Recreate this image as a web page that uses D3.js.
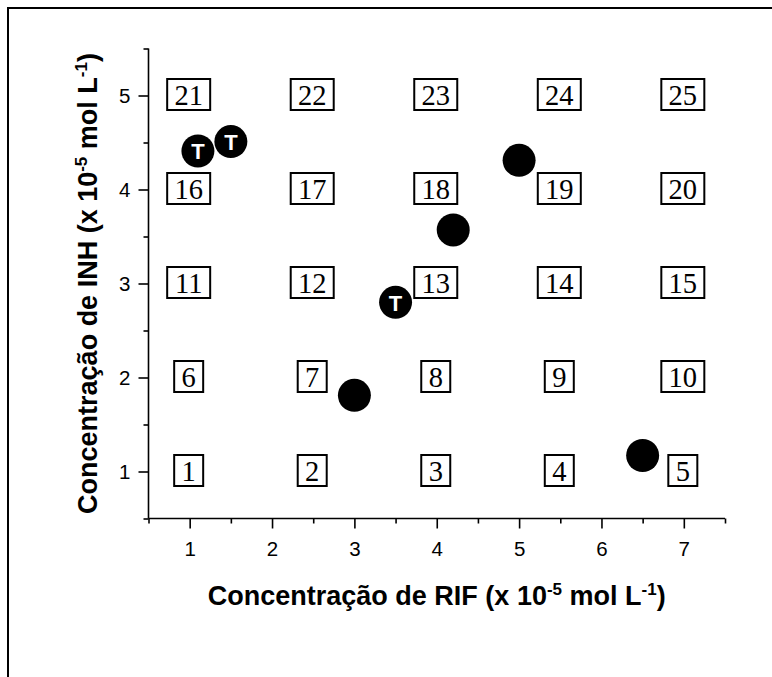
<!DOCTYPE html>
<html>
<head>
<meta charset="utf-8">
<script src="https://cdn.jsdelivr.net/npm/d3@7"></script>
<style>
  html, body { margin: 0; padding: 0; background: #fff; }
  svg { display: block; }
</style>
</head>
<body>
<svg id="chart" width="772" height="677"></svg>
<script>
// ---- data ----
const xTickValues = [1, 2, 3, 4, 5, 6, 7];
const yTickValues = [1, 2, 3, 4, 5];
const boxColumnsRIF = [1, 2.5, 4, 5.5, 7];
const boxRowsINH = [1, 2, 3, 4, 5];
const boxLabels = [1, 2, 3, 4, 5, 6, 7, 8, 9, 10, 11, 12, 13, 14, 15,
                   16, 17, 18, 19, 20, 21, 22, 23, 24, 25];
const pointRIF = [1.1, 1.5, 3.5, 3.0, 4.2, 5.0, 6.5];
const pointINH = [4.41, 4.51, 2.80, 1.81, 3.57, 4.31, 1.17];
const pointTags = ["T", "T", "T", "", "", "", ""];
const xTitle = ["Concentração de RIF (x 10", "-5", " mol L", "-1", ")"];
const yTitle = ["Concentração de INH (x 10", "-5", " mol L", "-1", ")"];

// ---- layout ----
const svg = d3.select("#chart");
const pLeft = 148.5, pRight = 725, pTop = 48.5, pBottom = 518.5;
const x = d3.scaleLinear().domain([0.5, 7.5]).range([pLeft, pRight]);
const y = d3.scaleLinear().domain([0.5, 5.5]).range([pBottom, pTop]);
const sans = "'Liberation Sans', Arial, sans-serif";
const serif = "'Liberation Serif', 'Times New Roman', serif";

// outer frame (clipped at right/bottom like the reference)
svg.append("rect").attr("x", 8).attr("y", 8).attr("width", 900).attr("height", 900)
  .attr("fill", "none").attr("stroke", "#000").attr("stroke-width", 2);

// axes: minor ticks
const minorX = d3.range(0.5, 7.51, 1);
const minorY = d3.range(0.5, 5.51, 1);
const gx = svg.append("g").attr("transform", `translate(0,${pBottom})`);
gx.call(d3.axisBottom(x).tickValues(minorX).tickSize(5).tickFormat(""));
const gx2 = svg.append("g").attr("transform", `translate(0,${pBottom})`);
gx2.call(d3.axisBottom(x).tickValues(xTickValues).tickSize(10).tickPadding(4).tickFormat(d3.format("d")));
const gy = svg.append("g").attr("transform", `translate(${pLeft},0)`);
gy.call(d3.axisLeft(y).tickValues(minorY).tickSize(5).tickFormat(""));
const gy2 = svg.append("g").attr("transform", `translate(${pLeft},0)`);
gy2.call(d3.axisLeft(y).tickValues(yTickValues).tickSize(10).tickPadding(8).tickFormat(d3.format("d")));

gx.select(".domain").attr("d", `M${pLeft},0H${pRight}`);
gy.select(".domain").attr("d", `M0,${pTop}V${pBottom}`);
gx2.select(".domain").remove();
gy2.select(".domain").remove();
svg.selectAll(".domain").attr("stroke", "#000").attr("stroke-width", 1.6);
svg.selectAll(".tick line").attr("stroke", "#000").attr("stroke-width", 1.6);
svg.selectAll(".tick text").attr("font-family", sans).attr("font-size", 20.5).attr("fill", "#000");
gx2.selectAll(".tick text").attr("dy", null).attr("y", 37);
gy2.selectAll(".tick text").attr("dy", "0.36em");

// titles
function title(parts, sel) {
  parts.forEach((p, i) => {
    const sup = i % 2 === 1;
    sel.append("tspan").text(p)
      .attr("font-size", sup ? 17 : 27)
      .attr("dy", sup ? -10 : (i > 0 ? 10 : 0));
  });
}
const xt = svg.append("text")
  .attr("x", (pLeft + pRight) / 2).attr("y", 605)
  .attr("text-anchor", "middle").attr("font-family", sans).attr("font-weight", "bold")
  .attr("fill", "#000");
title(xTitle, xt);
const yt = svg.append("text")
  .attr("transform", `translate(97,${(pTop + pBottom) / 2}) rotate(-90)`)
  .attr("text-anchor", "middle").attr("font-family", sans).attr("font-weight", "bold")
  .attr("fill", "#000");
title(yTitle, yt);

// labelled boxes
const boxes = boxLabels.map((n, i) => ({
  n, rx: boxColumnsRIF[i % 5], ry: boxRowsINH[Math.floor(i / 5)]
}));
const bg = svg.append("g").selectAll("g").data(boxes).join("g")
  .attr("transform", d => `translate(${x(d.rx) - 1},${y(d.ry) - 1})`);
bg.append("rect")
  .attr("x", d => d.n < 10 ? -14.5 : -21.5).attr("y", -15.5)
  .attr("width", d => d.n < 10 ? 29 : 43).attr("height", 31)
  .attr("fill", "#fff").attr("stroke", "#000").attr("stroke-width", 2);
bg.append("text").text(d => d.n)
  .attr("text-anchor", "middle").attr("y", 10)
  .attr("font-family", serif).attr("font-size", 28.5).attr("fill", "#000");

// experimental points
const pts = pointRIF.map((v, i) => ({ rx: v, ry: pointINH[i], tag: pointTags[i] }));
const pg = svg.append("g").selectAll("g").data(pts).join("g")
  .attr("transform", d => `translate(${x(d.rx)},${y(d.ry)})`);
pg.append("circle").attr("r", 16.5).attr("fill", "#000");
pg.filter(d => d.tag).append("text").text(d => d.tag)
  .attr("text-anchor", "middle").attr("y", 8.5)
  .attr("font-family", sans).attr("font-weight", "bold").attr("font-size", 22)
  .attr("fill", "#fff");
</script>
</body>
</html>
